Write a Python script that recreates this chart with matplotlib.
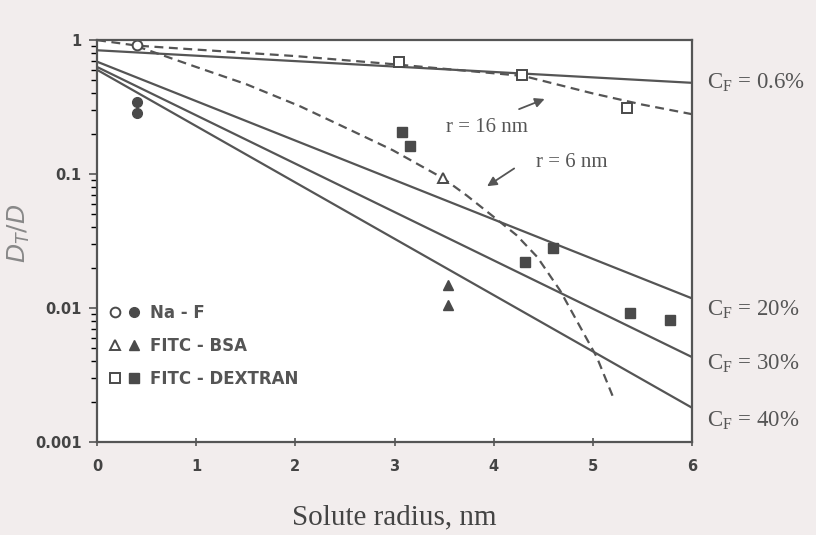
import matplotlib
matplotlib.use('Agg')
import matplotlib.pyplot as plt
from matplotlib.legend_handler import HandlerTuple

# solid model lines, straight on the log scale (value at r=0 and r=6)
line_r = [0, 6]
cf06 = [0.84, 0.48]
cf20 = [0.69, 0.0118]
cf30 = [0.63, 0.0043]
cf40 = [0.60, 0.0018]
cf_labels = ['0.6%', '20%', '30%', '40%']

# dashed curves
r16_r = [0, 0.4, 1, 2, 3, 4.3, 5, 5.5, 6]
r16_d = [1.0, 0.91, 0.85, 0.76, 0.66, 0.54, 0.40, 0.33, 0.28]
r6_r = [0.4, 1.0, 1.5, 2.05, 2.55, 2.98, 3.49, 3.73, 4.03, 4.23, 4.44, 4.67, 5.04, 5.20]
r6_d = [0.90, 0.63, 0.47, 0.32, 0.214, 0.151, 0.093, 0.069, 0.046, 0.035, 0.024, 0.0135, 0.0043, 0.0022]

# measured points
naf_open_r = [0.4]
naf_open_d = [0.92]
naf_fill_r = [0.4, 0.4]
naf_fill_d = [0.344, 0.285]
bsa_open_r = [3.49]
bsa_open_d = [0.093]
bsa_fill_r = [3.54, 3.54]
bsa_fill_d = [0.0148, 0.0105]
dex_open_r = [3.05, 4.29, 5.34]
dex_open_d = [0.685, 0.55, 0.31]
dex_fill_r = [3.08, 3.16, 4.6, 4.32, 5.37, 5.78]
dex_fill_d = [0.205, 0.162, 0.028, 0.022, 0.0092, 0.0081]

ink = '#555555'
dot = '#4a4a4a'
serif = 'Liberation Serif'

fig = plt.figure(figsize=(8.16, 5.35), dpi=100, facecolor='#f2eded')
ax = fig.add_axes([0.119, 0.174, 0.729, 0.751])
ax.set_facecolor('white')

for vals in (cf06, cf20, cf30, cf40):
    ax.plot(line_r, vals, color=ink, lw=1.6)

ax.plot(r16_r, r16_d, color=ink, lw=1.6, dashes=(4, 2.5))
ax.plot(r6_r, r6_d, color=ink, lw=1.6, dashes=(4, 2.5))

ms = 7
h1, = ax.plot(naf_open_r, naf_open_d, 'o', ls='none', mfc='white', mec=dot, mew=1.4, ms=ms)
h2, = ax.plot(naf_fill_r, naf_fill_d, 'o', ls='none', color=dot, ms=ms)
h3, = ax.plot(bsa_open_r, bsa_open_d, '^', ls='none', mfc='white', mec=dot, mew=1.4, ms=ms)
h4, = ax.plot(bsa_fill_r, bsa_fill_d, '^', ls='none', color=dot, ms=ms)
h5, = ax.plot(dex_open_r, dex_open_d, 's', ls='none', mfc='white', mec=dot, mew=1.4, ms=ms)
h6, = ax.plot(dex_fill_r, dex_fill_d, 's', ls='none', color=dot, ms=ms)

ax.set_yscale('log')
ax.set_xlim(0, 6)
ax.set_ylim(0.001, 1)
ax.set_xticks(range(7))
ax.set_yticks([0.001, 0.01, 0.1, 1], labels=['0.001', '0.01', '0.1', '1'])
ax.tick_params(axis='both', colors=ink, labelcolor='#444444', labelsize=10.5)
ax.tick_params(axis='x', direction='inout', length=6, width=1.2, pad=9)
ax.tick_params(axis='y', which='major', direction='out', length=6, width=1.2, pad=5)
ax.tick_params(axis='y', which='minor', direction='out', length=4, width=1.0)
for lab in ax.get_xticklabels() + ax.get_yticklabels():
    lab.set_fontweight('bold')
for sp in ax.spines.values():
    sp.set_color(ink)
    sp.set_linewidth(1.6)

ax.set_xlabel('Solute radius, nm', family=serif, fontsize=21, color='#444444', labelpad=22)
ax.set_ylabel(r'$D_T/D$', family=serif, fontsize=18, color='#888888')
ax.yaxis.set_label_coords(-0.11, 0.52)

# labels at the right end of each solid line
offsets = [0, -8, -5, -9]
for vals, lab, dy in zip((cf06, cf20, cf30, cf40), cf_labels, offsets):
    ax.annotate(r'C$_\mathregular{F}$ = ' + lab, xy=(6, vals[1]), xytext=(11, dy),
                textcoords='offset points', ha='left', va='center',
                family=serif, fontsize=16.5, color='#555555', annotation_clip=False)

ax.annotate('', xy=(4.54, 0.37), xytext=(4.23, 0.30),
            arrowprops=dict(arrowstyle='-|>', color=ink, lw=1.3, mutation_scale=14))
ax.text(3.93, 0.224, 'r = 16 nm', family=serif, fontsize=15, color='#555555',
        ha='center', va='center')
ax.annotate('', xy=(3.91, 0.079), xytext=(4.23, 0.113),
            arrowprops=dict(arrowstyle='-|>', color=ink, lw=1.3, mutation_scale=14))
ax.text(4.79, 0.123, 'r = 6 nm', family=serif, fontsize=15, color='#555555',
        ha='center', va='center')

leg = ax.legend([(h1, h2), (h3, h4), (h5, h6)], ['Na - F', 'FITC - BSA', 'FITC - DEXTRAN'],
                handler_map={tuple: HandlerTuple(ndivide=None, pad=0.3)},
                loc='upper left', bbox_to_anchor=(0.0, 0.372), frameon=False,
                handlelength=1.9, handletextpad=0.55, labelspacing=0.9,
                borderaxespad=0.3, prop={'weight': 'bold', 'size': 12})
for t in leg.get_texts():
    t.set_color('#555555')

fig.savefig('out.png', dpi=100, facecolor=fig.get_facecolor())
